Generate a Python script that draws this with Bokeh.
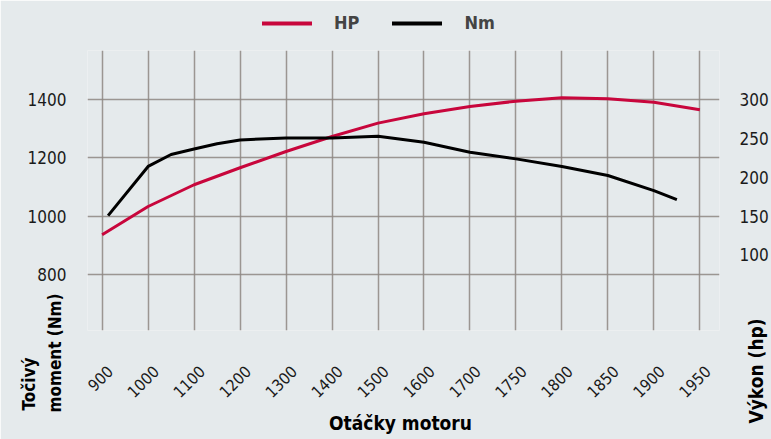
import math
from bokeh.plotting import figure
from bokeh.models import Range1d, LinearAxis, FixedTicker, Legend, LegendItem, Label
from bokeh.embed import file_html
from bokeh.resources import INLINE

# ---- data ----
rpm_labels = ["900", "1000", "1100", "1200", "1300", "1400", "1500",
              "1600", "1700", "1750", "1800", "1850", "1900", "1950"]
hp_pos = [0, 1, 2, 3, 4, 5, 6, 7, 8, 9, 10, 11, 12, 13]
hp_values = [126, 162.5, 190.5, 212.4, 233.4, 252.7, 269.9,
             282.0, 291.4, 298.2, 302.6, 301.3, 296.9, 287.1]
nm_pos = [0.13, 1, 1.5, 2, 2.5, 3, 4, 5, 6, 7, 8, 9, 10, 11, 12, 12.5]
nm_values = [1002, 1171, 1212, 1231, 1249, 1262, 1269, 1269, 1275,
             1254, 1220, 1197, 1171, 1140, 1088, 1057]
nm_ticks = [800, 1000, 1200, 1400]
hp_ticks = [100, 150, 200, 250, 300]

FONT = "DejaVu Sans Condensed"
RED = "#c8063c"
BG = "#e5eaec"
GRID = "#8e8782"
W, H = 771, 439

nm_min, nm_max = 607.2, 1569.4
def nm_to_hp(v):
    return 150 + (v - 1000) * 0.375

x_lo, x_hi = -0.318, 13.427

p = figure(width=W, height=H, output_backend="svg", toolbar_location=None,
           x_range=Range1d(x_lo, x_hi), y_range=Range1d(nm_min, nm_max),
           min_border_left=87, min_border_right=49, min_border_top=50,
           min_border_bottom=109)
p.background_fill_color = BG
p.border_fill_color = BG
p.outline_line_color = None

p.extra_y_ranges = {"hp": Range1d(nm_to_hp(nm_min), nm_to_hp(nm_max))}
shift = 0.17
p.extra_x_ranges = {"lab": Range1d(x_lo - shift, x_hi - shift)}

p.xaxis.visible = False
xax = LinearAxis(x_range_name="lab", ticker=FixedTicker(ticks=hp_pos),
                 major_label_overrides={i: s for i, s in enumerate(rpm_labels)})
xax.major_label_orientation = math.pi / 4
xax.major_label_standoff = 38
xax.axis_line_color = None
xax.major_tick_line_color = None
xax.minor_tick_line_color = None
xax.major_tick_out = 0
xax.major_label_text_font = FONT
xax.major_label_text_font_size = "16px"
xax.major_label_text_color = "#1a1a1a"
p.add_layout(xax, "below")

yl = p.yaxis[0]
yl.ticker = FixedTicker(ticks=nm_ticks)
yl.axis_line_color = None
yl.major_tick_line_color = None
yl.minor_tick_line_color = None
yl.major_tick_out = 0
yl.major_label_standoff = 21
yl.major_label_text_font = FONT
yl.major_label_text_font_size = "17px"
yl.major_label_text_color = "#1a1a1a"

yr = LinearAxis(y_range_name="hp", ticker=FixedTicker(ticks=hp_ticks))
yr.axis_line_color = None
yr.major_tick_line_color = None
yr.minor_tick_line_color = None
yr.major_tick_out = 0
yr.major_label_standoff = 20
yr.major_label_text_font = FONT
yr.major_label_text_font_size = "17px"
yr.major_label_text_color = "#1a1a1a"
p.add_layout(yr, "right")

p.xgrid.ticker = FixedTicker(ticks=hp_pos)
p.ygrid.ticker = FixedTicker(ticks=nm_ticks)
for g in (p.xgrid, p.ygrid):
    g.grid_line_color = GRID
    g.grid_line_width = 1.5
    g.grid_line_alpha = 0.85

p.line(hp_pos, hp_values, y_range_name="hp", line_color=RED, line_width=3)
p.line(nm_pos, nm_values, line_color="black", line_width=3)

# ---- transparent overlay carrying legend and axis titles (page pixel space) ----
q = figure(width=W, height=H, output_backend="svg", toolbar_location=None,
           x_range=Range1d(0, W), y_range=Range1d(H, 0),
           x_axis_location=None, y_axis_location=None, min_border=0)
q.grid.visible = False
q.background_fill_alpha = 0
q.border_fill_alpha = 0
q.outline_line_color = None
q.styles = {"position": "absolute", "left": "0px", "top": "0px"}

# legend keys (style only, nothing drawn in the plot)
nan = float("nan")
k_hp = q.line([nan], [nan], line_color=RED, line_width=4, line_cap="round")
k_nm = q.line([nan], [nan], line_color="black", line_width=4, line_cap="round")
legend = Legend(items=[LegendItem(label="HP", renderers=[k_hp]),
                       LegendItem(label="Nm", renderers=[k_nm])],
                orientation="horizontal", location=(262, 406))
legend.glyph_width = 50
legend.glyph_height = 20
legend.label_standoff = 22
legend.spacing = 33
legend.padding = 0
legend.margin = 0
legend.border_line_color = None
legend.background_fill_alpha = 0
legend.label_text_font = FONT
legend.label_text_font_style = "bold"
legend.label_text_font_size = "18px"
q.add_layout(legend, "center")

def title(text, x, y, size="17px", angle=0.0, align="left", baseline="middle"):
    q.add_layout(Label(x=x, y=y, text=text, angle=angle, text_align=align,
                       text_baseline=baseline, text_font=FONT,
                       text_font_style="bold", text_font_size=size,
                       text_color="black"))

title("Točivý", 28.5, 410, angle=math.pi / 2)
title("moment (Nm)", 54, 412, angle=math.pi / 2)
title("Výkon (hp)", 755.5, 423, size="19px", angle=math.pi / 2)
title("Otáčky motoru", 400, 422, size="19px", align="center", baseline="alphabetic")

open("out.html", "w").write(file_html([p, q], INLINE))
